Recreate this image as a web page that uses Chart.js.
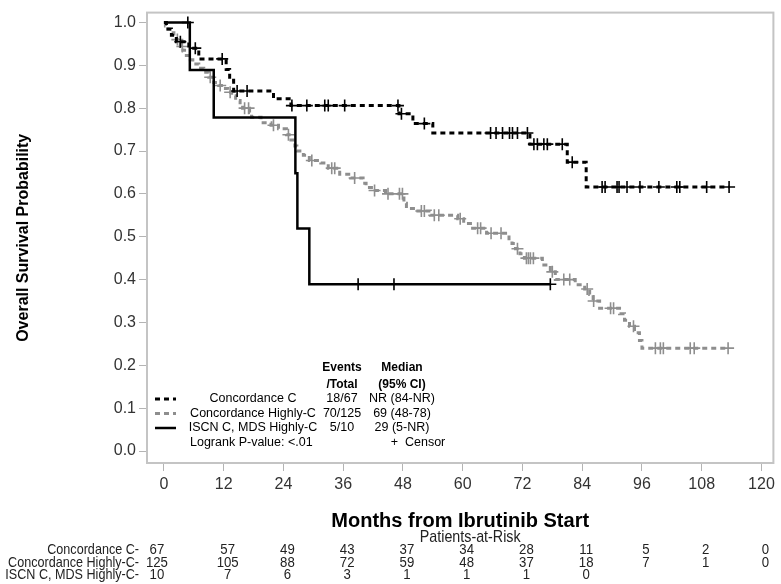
<!DOCTYPE html>
<html>
<head>
<meta charset="utf-8">
<script src="https://cdn.jsdelivr.net/npm/chart.js@4.4.0/dist/chart.umd.min.js"></script>
<style>
    body { margin: 0; background: #fff; }
    canvas { display: block; }
</style>
</head>
<body>
<canvas id="kmChart" width="781" height="584"></canvas>
<script>
// Axis ticks
const xTicks = [0, 12, 24, 36, 48, 60, 72, 84, 96, 108, 120];
const yTicks = [0, 0.1, 0.2, 0.3, 0.4, 0.5, 0.6, 0.7, 0.8, 0.9, 1.0];

// Legend table
const groupNames = ['Concordance C', 'Concordance Highly-C', 'ISCN C, MDS Highly-C'];
const eventsTotal = ['18/67', '70/125', '5/10'];
const medianCI = ['NR (84-NR)', '69 (48-78)', '29 (5-NR)'];
const logrankText = 'Logrank P-value: <.01';

// Concordance C: event times (months) and survival after each event
const concCTimes = [0.5, 1.5, 2.5, 5, 7, 12.5, 13.2, 14, 22, 25.5, 47.2, 50, 54, 73.5, 81, 84.8];
const concCSurv = [0.985, 0.970, 0.955, 0.940, 0.915, 0.890, 0.865, 0.840, 0.822, 0.806, 0.787, 0.764, 0.742, 0.716, 0.674, 0.616];
const concCCensored = [3.3, 6.3, 11.7, 14.7, 16.7, 25.7, 28.7, 32.3, 33, 36.3, 47, 47.7, 52.3, 65.6, 66.7, 68, 69.4, 70, 71, 73,
    74.3, 75, 76.3, 77, 80, 82, 88, 88.6, 91, 91.4, 93, 95.6, 99.4, 103, 103.6, 109, 113.5];

// Concordance Highly-C
const concHCTimes = [0.3, 0.8, 1.5, 2.0, 2.5, 3.0, 3.3, 3.8, 4.5, 5.3, 5.8, 7.0, 8.0, 9.0, 10.0, 11.0, 12.0, 12.8, 13.6, 14.4,
    15.3, 15.8, 17.2, 17.6, 19.5, 21.5, 23.0, 24.6, 25.5, 26.3, 26.7, 28.0, 29.2, 31.5, 33.0, 35.3, 37.5, 40.0, 40.6, 42.0,
    44.5, 48.2, 48.7, 50.5, 53.5, 59.0, 60.2, 62.0, 64.8, 69.3, 69.9, 70.6, 71.5, 72.4, 76.0, 77.6, 78.6, 82.6, 84.5, 85.5,
    86.2, 87.5, 91.5, 92.5, 93.5, 94.5, 95.5, 96.0];
const concHCSurv = [0.992, 0.984, 0.976, 0.968, 0.960, 0.952, 0.944, 0.935, 0.923, 0.913, 0.903, 0.893, 0.884, 0.872, 0.860, 0.853, 0.846, 0.837, 0.829, 0.818,
    0.809, 0.800, 0.790, 0.779, 0.766, 0.760, 0.752, 0.738, 0.726, 0.712, 0.700, 0.690, 0.678, 0.672, 0.660, 0.646, 0.637, 0.625, 0.615, 0.608,
    0.600, 0.578, 0.566, 0.560, 0.550, 0.542, 0.531, 0.520, 0.508, 0.495, 0.484, 0.472, 0.460, 0.450, 0.434, 0.418, 0.400, 0.388, 0.378, 0.365,
    0.350, 0.333, 0.320, 0.305, 0.291, 0.276, 0.258, 0.240];
const concHCCensored = [2.7, 3.7, 9.3, 11.3, 13.3, 16.2, 17.0, 22.0, 25.0, 29.7, 33.7, 34.3, 38.3, 42.3, 45.0, 47.3, 47.9, 51.7, 52.3, 54.3,
    55.2, 59.5, 63.0, 63.6, 65.7, 67.7, 71.0, 72.8, 73.2, 73.6, 74.2, 78.0, 80.3, 81.5, 85.0, 86.3, 89.7, 90.3, 94.3, 98.7,
    99.7, 100.3, 105.7, 106.5, 113.3];

// ISCN C, MDS Highly-C
const iscnTimes = [5.2, 10, 26.4, 26.8, 29.2];
const iscnSurv = [0.889, 0.778, 0.648, 0.519, 0.389];
const iscnCensored = [4.8, 39, 46.2, 77.6];

// Patients-at-risk table
const riskConcC = [67, 57, 49, 43, 37, 34, 28, 11, 5, 2, 0];
const riskConcHC = [125, 105, 88, 72, 59, 48, 37, 18, 7, 1, 0];
const riskIscn = [10, 7, 6, 3, 1, 1, 1, 0];

const sans = "'Liberation Sans', Arial, sans-serif";
const grayCurve = '#8e8e8e';

function stepPoints(times, surv, censored) {
    const pts = [{ x: 0, y: 1 }];
    times.forEach((t, i) => pts.push({ x: t, y: surv[i] }));
    const lastCensor = Math.max(...censored);
    if (lastCensor > times[times.length - 1]) {
        pts.push({ x: lastCensor, y: surv[surv.length - 1] });
    }
    return pts;
}

// censor marks sit on the curve at their time
function censorPoints(times, surv, censored) {
    return censored.map(t => {
        let y = 1;
        times.forEach((et, i) => { if (et <= t) y = surv[i]; });
        return { x: t, y: y };
    });
}

const lineStyles = [
    { color: '#000', dash: [5, 4], width: 3 },
    { color: grayCurve, dash: [5, 4], width: 3 },
    { color: '#000', dash: [], width: 2.5 }
];

function curve(pts, style) {
    return {
        data: pts, showLine: true, stepped: true, pointRadius: 0,
        borderColor: style.color, borderWidth: style.width, borderDash: style.dash
    };
}

function marks(pts, color) {
    return {
        data: pts, showLine: false, pointStyle: 'cross', pointRadius: 6,
        borderColor: color, pointBorderWidth: 1.6, backgroundColor: color
    };
}

// first dataset is painted on top
const datasets = [
    marks(censorPoints(iscnTimes, iscnSurv, iscnCensored), '#000'),
    curve(stepPoints(iscnTimes, iscnSurv, iscnCensored), lineStyles[2]),
    marks(censorPoints(concCTimes, concCSurv, concCCensored), '#000'),
    curve(stepPoints(concCTimes, concCSurv, concCCensored), lineStyles[0]),
    marks(censorPoints(concHCTimes, concHCSurv, concHCCensored), grayCurve),
    curve(stepPoints(concHCTimes, concHCSurv, concHCCensored), lineStyles[1])
];

// no narrow font installed, so squeeze the regular one
function narrowText(ctx, text, x, y, align, squeeze) {
    ctx.save();
    ctx.translate(x, y);
    ctx.scale(squeeze, 1);
    ctx.textAlign = align;
    ctx.fillText(text, 0, 0);
    ctx.restore();
}

const kmExtras = {
    id: 'kmExtras',
    beforeDatasetsDraw(chart) {
        const { ctx, chartArea: a } = chart;
        ctx.save();
        ctx.strokeStyle = '#c4c4c4';
        ctx.lineWidth = 2;
        ctx.strokeRect(a.left, a.top, a.right - a.left, a.bottom - a.top);
        ctx.restore();
    },
    afterDraw(chart) {
        const { ctx, chartArea: a } = chart;
        const xs = chart.scales.x;
        ctx.save();
        ctx.textBaseline = 'middle';
        ctx.fillStyle = '#000';

        // legend table inside the plot
        const evX = a.left + 195, medX = a.left + 255, nameX = a.left + 106;
        ctx.textAlign = 'center';
        ctx.font = 'bold 12px ' + sans;
        ctx.fillText('Events', evX, a.bottom - 95);
        ctx.fillText('/Total', evX, a.bottom - 78);
        ctx.fillText('Median', medX, a.bottom - 95);
        ctx.fillText('(95% CI)', medX, a.bottom - 78);
        ctx.font = '12.5px ' + sans;
        groupNames.forEach((name, i) => {
            const y = a.bottom - 64 + i * 14.5;
            const st = lineStyles[i];
            ctx.beginPath();
            ctx.strokeStyle = st.color;
            ctx.lineWidth = st.width;
            ctx.setLineDash(st.dash);
            ctx.moveTo(a.left + 8, y);
            ctx.lineTo(a.left + 29, y);
            ctx.stroke();
            ctx.setLineDash([]);
            ctx.fillText(name, nameX, y);
            ctx.fillText(eventsTotal[i], evX, y);
            ctx.fillText(medianCI[i], medX, y);
        });
        const lastY = a.bottom - 64 + 3 * 14.5;
        ctx.textAlign = 'left';
        ctx.fillText(logrankText, a.left + 43, lastY);
        ctx.textAlign = 'center';
        ctx.fillText('+  Censor', a.left + 271, lastY);

        // patients-at-risk table
        ctx.fillStyle = '#222';
        ctx.font = '17px ' + sans;
        narrowText(ctx, 'Patients-at-Risk', (a.left + a.right) / 2 + 10, a.bottom + 74, 'center', 0.84);
        ctx.font = '15px ' + sans;
        [riskConcC, riskConcHC, riskIscn].forEach((row, r) => {
            const y = a.bottom + 87 + r * 12.5;
            narrowText(ctx, groupNames[r] + '-', a.left - 8, y, 'right', 0.84);
            row.forEach((n, i) => {
                const px = xs.getPixelForValue(xTicks[i]);
                narrowText(ctx, String(n), i === 0 ? px - 7 : px + 4, y, 'center', 0.88);
            });
        });
        ctx.restore();
    }
};

new Chart(document.getElementById('kmChart'), {
    type: 'scatter',
    data: { datasets: datasets },
    options: {
        responsive: false,
        animation: false,
        events: [],
        layout: { padding: { top: 12, right: 4, bottom: 0, left: 0 } },
        plugins: { legend: { display: false }, tooltip: { enabled: false } },
        scales: {
            x: {
                type: 'linear',
                min: -3.4,
                max: 122.4,
                afterBuildTicks: s => { s.ticks = xTicks.map(v => ({ value: v })); },
                afterFit: s => { s.height = 121; },
                grid: { drawOnChartArea: false, color: '#b4b4b4', tickLength: 8 },
                border: { color: '#c4c4c4', width: 2 },
                ticks: { font: { family: sans, size: 16 }, color: '#333', padding: 4, maxRotation: 0, autoSkip: false },
                title: {
                    display: true, text: 'Months from Ibrutinib Start', color: '#000',
                    font: { family: sans, size: 20, weight: 'bold' },
                    padding: { top: 0, bottom: 51 }
                }
            },
            y: {
                min: -0.028,
                max: 1.023,
                afterBuildTicks: s => { s.ticks = yTicks.map(v => ({ value: v })); },
                afterFit: s => { s.width = 147; },
                grid: { drawOnChartArea: false, color: '#b4b4b4', tickLength: 8 },
                border: { color: '#c4c4c4', width: 2 },
                ticks: { font: { family: sans, size: 16 }, color: '#333', padding: 3, autoSkip: false, callback: v => v.toFixed(1) },
                title: {
                    display: true, text: 'Overall Survival Probability', color: '#000',
                    font: { family: sans, size: 16, weight: 'bold' },
                    padding: { top: 14, bottom: 0 }
                }
            }
        }
    },
    plugins: [kmExtras]
});
</script>
</body>
</html>
